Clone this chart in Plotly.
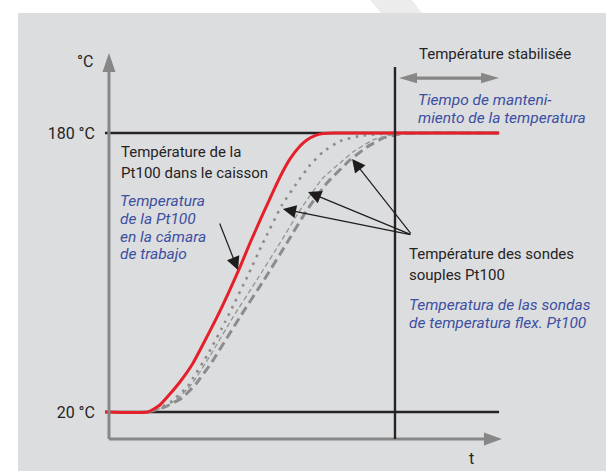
import plotly.graph_objects as go

W, H = 606, 471

# ---------------- data (time in arbitrary units, temperature in °C) ----------------
t_chamber = [-1.4, 13.6, 17.8, 21.3, 24.8, 29.4, 37.8, 45.8, 49.3, 53.5, 57.3, 60.5,
             63.3, 66.8, 69.2, 72.0, 74.8, 79.0, 84.3, 136.4]
T_chamber = [20, 20, 24.0, 30.3, 37.2, 48.1, 74.5, 103.1, 116.9, 132.4, 146.1, 157.0,
             165.1, 172.5, 176.0, 178.5, 179.7, 180, 180, 180]

t_probe1 = [13.6, 17.8, 22.0, 27.6, 35.0, 40.6, 43.0, 48.3, 53.8, 60.5, 65.7, 70.3,
            74.8, 80.8, 87.8, 94.8, 101.7, 136.4]
T_probe1 = [20, 22.3, 26.3, 34.9, 54.4, 71.6, 79.6, 97.4, 116.9, 138.7, 151.3, 161.6,
            169.1, 175.4, 178.3, 179.4, 180, 180]

t_probe2 = [13.6, 18.5, 23.4, 29.0, 35.3, 43.4, 51.7, 59.8, 66.8, 74.8, 80.8, 85.3,
            92.3, 98.3, 105.2, 136.4]
T_probe2 = [20, 22.3, 26.9, 36.1, 52.1, 74.5, 95.7, 116.9, 135.8, 154.2, 162.8, 169.1,
            176.0, 178.8, 180, 180]

t_probe3 = [13.6, 19.6, 25.5, 30.4, 36.0, 45.8, 54.2, 62.2, 69.2, 76.2, 84.3, 90.2,
            95.8, 101.7, 108.7, 136.4]
T_probe3 = [20, 22.9, 28.0, 36.1, 48.7, 74.5, 95.7, 116.9, 135.8, 151.3, 164.5, 171.9,
            177.1, 179.4, 180, 180]

temp_ticks = [20, 180]
temp_tick_labels = ["20 °C", "180 °C"]
t_stable = 100          # start of stabilised phase
t_end = 136.4           # end of drawn time
t_start_line = -1.4

# ---------------- geometry helpers ----------------
X_RANGE = [-38.11, 173.78]
Y_RANGE = [-13.83, 256.24]
KX = W / (X_RANGE[1] - X_RANGE[0])   # px per time unit
KY = H / (Y_RANGE[1] - Y_RANGE[0])   # px per °C

def P(px, py):
    return px / W, 1 - py / H

BLACK = "#262324"
BLUE = "#3d4fa1"
GRAY_AX = "#878787"
RED = "#e5202a"
FONT_B = "Roboto, sans-serif"
FONT_I = "Roboto, sans-serif"

fig = go.Figure()

# curves
fig.add_trace(go.Scatter(x=t_probe3, y=T_probe3, mode="lines",
                         line=dict(color="#8c8c8c", width=3, dash="9px,5px",
                                   shape="spline", smoothing=0.4),
                         hoverinfo="skip", showlegend=False))
fig.add_trace(go.Scatter(x=t_probe2, y=T_probe2, mode="lines",
                         line=dict(color="#949494", width=1.3, dash="5px,3px",
                                   shape="spline", smoothing=0.4),
                         hoverinfo="skip", showlegend=False))
fig.add_trace(go.Scatter(x=t_probe1, y=T_probe1, mode="lines",
                         line=dict(color="#8c8c8c", width=2.6, dash="2.6px,5.5px",
                                   shape="spline", smoothing=0.4),
                         hoverinfo="skip", showlegend=False))
fig.add_trace(go.Scatter(x=t_chamber, y=T_chamber, mode="lines",
                         line=dict(color=RED, width=3, shape="spline", smoothing=0.4),
                         hoverinfo="skip", showlegend=False))

shapes = []
# grey panel
x0p, y0p = P(18, 13)
shapes.append(dict(type="rect", xref="paper", yref="paper", x0=x0p, x1=1, y0=0, y1=y0p,
                   fillcolor="#dcdddf", line=dict(width=0), layer="below"))
# light diagonal band in the top margin
pts = [P(370, 0), P(412, 0), P(422, 13), P(381, 13)]
path = "M " + " L ".join(f"{a:.5f},{b:.5f}" for a, b in pts) + " Z"
shapes.append(dict(type="path", xref="paper", yref="paper", path=path,
                   fillcolor="#ececec", line=dict(width=0), layer="below"))

# axis levels
T_axis = 4.5
T_ytop = 215.0
T_ytip = 225.9
t_xtop = 131.1
t_xtip = 137.4
hw_t = 6.5 / KX
hw_T = 6.5 / KY

# gray axes
shapes.append(dict(type="line", x0=0, x1=0, y0=T_axis, y1=T_ytop + 1,
                   line=dict(color=GRAY_AX, width=3)))
shapes.append(dict(type="line", x0=0, x1=t_xtop + 0.5, y0=T_axis, y1=T_axis,
                   line=dict(color=GRAY_AX, width=3)))
shapes.append(dict(type="path",
                   path=f"M {-hw_t},{T_ytop} L {hw_t},{T_ytop} L 0,{T_ytip} Z",
                   fillcolor=GRAY_AX, line=dict(width=0)))
shapes.append(dict(type="path",
                   path=f"M {t_xtop},{T_axis - hw_T} L {t_xtop},{T_axis + hw_T} L {t_xtip},{T_axis} Z",
                   fillcolor=GRAY_AX, line=dict(width=0)))

# reference lines
for T in temp_ticks:
    shapes.append(dict(type="line", x0=t_start_line, x1=t_end, y0=T, y1=T,
                       line=dict(color=BLACK, width=2.6), layer="below"))
shapes.append(dict(type="line", x0=t_stable, x1=t_stable, y0=T_axis, y1=217.8,
                   line=dict(color=BLACK, width=2.4)))

# double-headed gray arrow (stabilised phase)
T_da = 211.5
hl = 18 / KX
hh = 5.2 / KY
sw = 1.6 / KY
a0, a1 = t_stable + 1.4, t_end
shapes.append(dict(type="path",
                   path=(f"M {a0},{T_da} L {a0 + hl},{T_da + hh} L {a0 + hl},{T_da + sw} "
                         f"L {a1 - hl},{T_da + sw} L {a1 - hl},{T_da + hh} L {a1},{T_da} "
                         f"L {a1 - hl},{T_da - hh} L {a1 - hl},{T_da - sw} "
                         f"L {a0 + hl},{T_da - sw} L {a0 + hl},{T_da - hh} Z"),
                   fillcolor=GRAY_AX, line=dict(width=0)))

annotations = []

def txt(s, px, py, color=BLACK, size=15, italic=False, family=FONT_B, anchor="left"):
    x, y = P(px, py)
    annotations.append(dict(text=(f"<i>{s}</i>" if italic else s), x=x, y=y,
                            xref="paper", yref="paper", xanchor=anchor, yanchor="middle",
                            showarrow=False,
                            font=dict(family=family, size=size, color=color)))

BS = 15.5
txt("°C", 95, 62, size=16, anchor="right")
txt("t", 471, 458, size=16, anchor="center")
txt("Température stabilisée", 417, 54)
txt("Tiempo de manteni-", 416, 100, BLUE, BS, True, FONT_I)
txt("miento de la temperatura", 416, 118, BLUE, BS, True, FONT_I)
txt("Température de la", 119, 152)
txt("Pt100 dans le caisson", 119, 173)
for i, s in enumerate(["Temperatura", "de la Pt100", "en la cámara", "de trabajo"]):
    txt(s, 118, 201 + i * 17.8, BLUE, BS, True, FONT_I)
txt("Température des sondes", 407, 254)
txt("souples Pt100", 407, 275)
txt("Temperatura de las sondas", 407, 305, BLUE, BS, True, FONT_I)
txt("de temperatura flex. Pt100", 407, 323, BLUE, BS, True, FONT_I)

# black pointer arrows
def arrow(tx, tT, sx, sT):
    annotations.append(dict(x=tx, y=tT, ax=sx, ay=sT, xref="x", yref="y",
                            axref="x", ayref="y", text="", showarrow=True,
                            arrowhead=2, arrowsize=2.2, arrowwidth=1.2,
                            arrowcolor="#1e1c1d", standoff=0))

arrow(45.1, 101.4, 38.5, 128.9)
src = (105.9, 121.5)
arrow(85.0, 165.1, *src)
arrow(69.6, 146.1, *src)
arrow(60.8, 136.4, *src)

fig.update_layout(
    width=W, height=H, autosize=False,
    margin=dict(l=0, r=0, t=0, b=0, pad=0),
    paper_bgcolor="white", plot_bgcolor="rgba(0,0,0,0)",
    xaxis=dict(range=X_RANGE, visible=False, fixedrange=True),
    yaxis=dict(range=Y_RANGE, anchor="free", position=109 / W, side="left",
               tickvals=temp_ticks, ticktext=temp_tick_labels, ticks="",
               ticklabelstandoff=14, showgrid=False, zeroline=False, showline=False,
               tickfont=dict(family=FONT_B, size=16, color=BLACK), fixedrange=True),
    shapes=shapes, annotations=annotations, showlegend=False,
)

fig.write_html("out.html", config={"displayModeBar": False},
               post_script="document.body.style.margin='0px';")
